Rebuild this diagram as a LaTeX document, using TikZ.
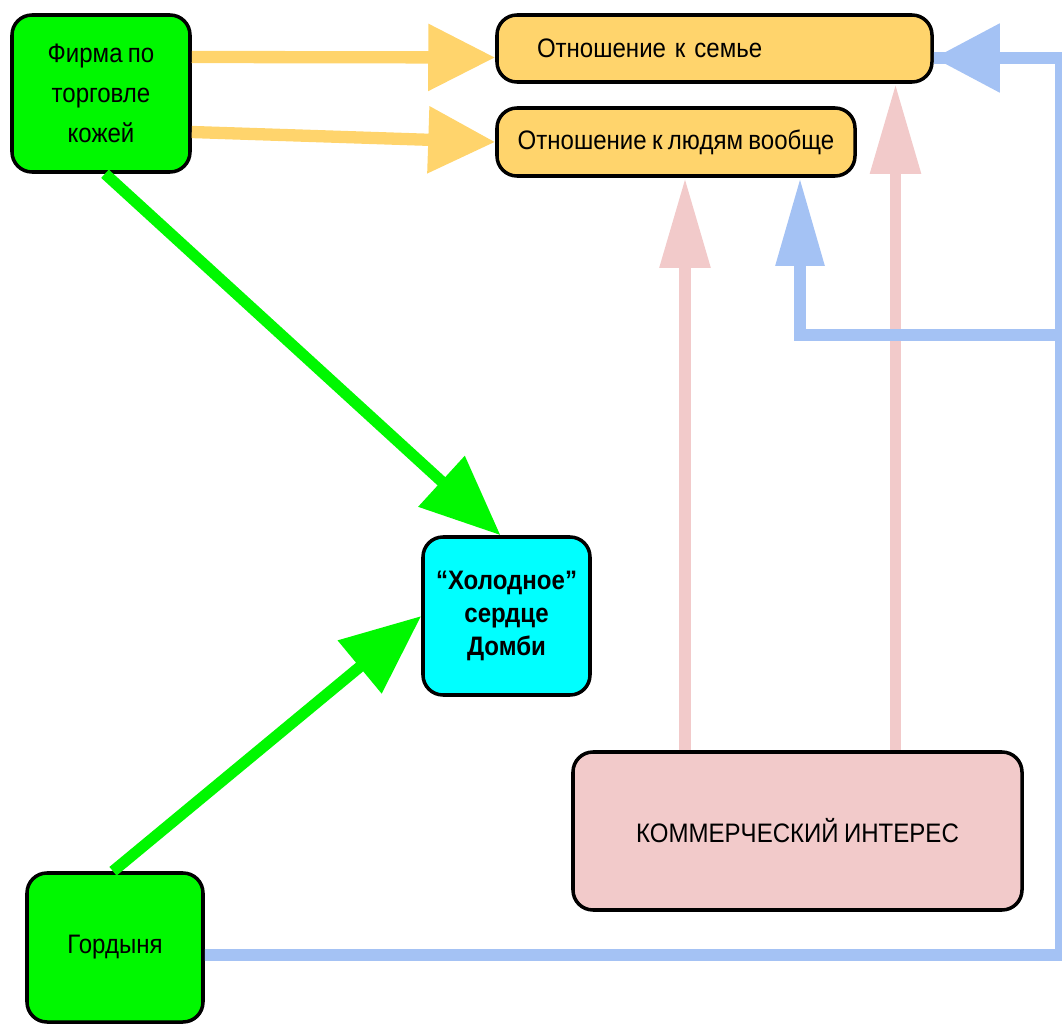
\documentclass[tikz,border=0pt]{standalone}
\usepackage{fontspec}
\setmainfont{Liberation Sans}[FakeStretch=0.9,WordSpace=0.8]
\usetikzlibrary{arrows.meta,calc}
\definecolor{grn}{RGB}{0,248,0}
\definecolor{ylw}{RGB}{255,212,108}
\definecolor{cyn}{RGB}{0,255,255}
\definecolor{pnk}{RGB}{242,202,202}
\definecolor{blu}{RGB}{164,194,244}
\begin{document}
\begin{tikzpicture}[font=\fontsize{7.6}{11.4}\selectfont,
	box/.style={draw=black, line width=1pt, rounded corners=2mm, align=center, inner sep=0pt},
	yarr/.style={ylw, line width=3.5pt, -{Triangle[length=6.7mm,width=6.4mm]}},
	garr/.style={grn, line width=3.2pt, -{Triangle[length=8mm,width=6.6mm]}},
	parr/.style={pnk, line width=3.4pt, -{Triangle[length=9mm,width=4.8mm]}},
	barr/.style={blu, line width=3.4pt}]
	\useasboundingbox (0,0) rectangle (10.62,-10.28);
	\node[box, fill=grn, minimum width=1.78cm, minimum height=1.57cm] (firma) at (1.01,-0.935) {Фирма по\\торговле\\кожей};
	\node[box, fill=ylw, text width=3.55cm, inner xsep=4mm, minimum height=0.67cm, align=left] (semya) at (7.145,-0.485) {Отношение к семье};
	\node[box, fill=ylw, minimum width=3.58cm, minimum height=0.68cm] (lyudi) at (6.76,-1.42) {Отношение к людям вообще};
	\node[box, fill=cyn, minimum width=1.67cm, minimum height=1.58cm, font=\fontsize{7.6}{9.4}\selectfont\bfseries] (serdce) at (5.065,-6.16) {“Холодное”\\сердце\\Домби};
	\node[box, fill=pnk, minimum width=4.49cm, minimum height=1.58cm] (interes) at (7.975,-8.31) {КОММЕРЧЕСКИЙ ИНТЕРЕС};
	\node[box, fill=grn, minimum width=1.76cm, minimum height=1.49cm] (gordynya) at (1.15,-9.475) {Гордыня};
	\coordinate (B1) at (10.61,-9.55);
	\coordinate (B2) at (10.61,-3.35);
	\coordinate (B3) at (10.61,-0.58);
	\coordinate (B4) at (8.0,-3.35);
	\draw[yarr] ([yshift=3.65mm]firma.east) -- ([yshift=-0.9mm]semya.west);
	\draw[yarr] ([yshift=-3.85mm]firma.east) -- (lyudi.west);
	\draw[garr] ([xshift=0.4mm]firma.south) -- ([xshift=-0.6mm]serdce.north);
	\draw[garr] ([xshift=-0.2mm]gordynya.north) -- (serdce.west);
	\draw[parr] ([xshift=-11.25mm]interes.north) -- ([xshift=-11.25mm]interes.north |- lyudi.south);
	\draw[parr] ([xshift=9.8mm]interes.north) -- ([xshift=9.8mm]interes.north |- semya.south);
	\draw[barr] ([yshift=-0.75mm]gordynya.east) -- (B1) -- (B3) -- ([yshift=-0.95mm]semya.east);
	\draw[barr, -{Triangle[length=6.6mm,width=6.6mm]}] (B3) -- ([yshift=-0.95mm]semya.east);
	\draw[barr, -{Triangle[length=8.8mm,width=4.6mm]}] (B2) -- (B4) -- (B4 |- lyudi.south);
\end{tikzpicture}
\end{document}
